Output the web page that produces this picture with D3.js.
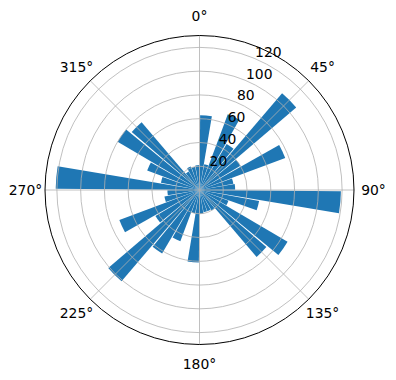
<!DOCTYPE html>
<html lang="en">
<head>
<meta charset="UTF-8">
<title>Polar histogram</title>
<script src="https://d3js.org/d3.v7.min.js"></script>
<style>
  body { margin: 0; background: #fff; }
  text { font-family: "DejaVu Sans", sans-serif; font-size: 13.9px; fill: #000; }
</style>
</head>
<body>
<svg width="396" height="380"></svg>
<script>
// bin centres (degrees, clockwise from north) and counts per bin
const binCenters = [5, 15, 25, 35, 45, 55, 65, 75, 85,
                    95, 105, 115, 125, 135, 145, 155, 165, 175,
                    185, 195, 205, 215, 225, 235, 245, 255, 265,
                    275, 285, 295, 305, 315, 325, 335, 345, 355];
const counts = [63, 22, 68, 45, 107, 40, 77, 29, 30,
                119, 51, 26, 86, 74, 20, 19, 19, 20,
                61, 20, 46, 62, 101, 43, 72, 30, 27,
                121, 33, 47, 80, 75, 18, 21, 20, 21];
const binWidth = 9; // degrees drawn per bar
const radialTicks = [20, 40, 60, 80, 100, 120];
const angleTicks = [0, 45, 90, 135, 180, 225, 270, 315];

const cx = 199.5, cy = 190, R = 154.5, rMax = 130;
const rad = d => d * Math.PI / 180;

const svg = d3.select("svg");
const g = svg.append("g").attr("transform", `translate(${cx},${cy})`);

const r = d3.scaleLinear().domain([0, rMax]).range([0, R]);

// bars
const arc = d3.arc()
    .innerRadius(0)
    .outerRadius(d => r(d.count))
    .startAngle(d => rad(d.angle - binWidth / 2))
    .endAngle(d => rad(d.angle + binWidth / 2));

const bins = binCenters.map((a, i) => ({ angle: a, count: counts[i] }));
g.append("g").selectAll("path")
    .data(bins)
    .enter().append("path")
    .attr("d", arc)
    .attr("fill", "#1f77b4");

// grid (drawn over the bars, like matplotlib)
const grid = g.append("g").attr("fill", "none").attr("stroke", "#b0b0b0").attr("stroke-width", 0.8);
grid.selectAll("circle")
    .data(radialTicks)
    .enter().append("circle")
    .attr("r", d => r(d));
grid.selectAll("line")
    .data(angleTicks)
    .enter().append("line")
    .attr("x1", 0).attr("y1", 0)
    .attr("x2", d => R * Math.sin(rad(d)))
    .attr("y2", d => -R * Math.cos(rad(d)));

// outer frame
g.append("circle").attr("r", R).attr("fill", "none").attr("stroke", "#000").attr("stroke-width", 1);

// angle labels
const labelR = 174;
g.append("g").selectAll("text")
    .data(angleTicks)
    .enter().append("text")
    .attr("x", d => labelR * Math.sin(rad(d)))
    .attr("y", d => -labelR * Math.cos(rad(d)))
    .attr("text-anchor", "middle")
    .attr("dominant-baseline", "central")
    .text(d => d + "°");

// radial labels along 22.5 degrees
const labelAngle = rad(22.5);
g.append("g").selectAll("text")
    .data(radialTicks)
    .enter().append("text")
    .attr("x", d => r(d) * Math.sin(labelAngle) + 1)
    .attr("y", d => -r(d) * Math.cos(labelAngle) - 1.7)
    .attr("text-anchor", "start")
    .text(d => d);
</script>
</body>
</html>
